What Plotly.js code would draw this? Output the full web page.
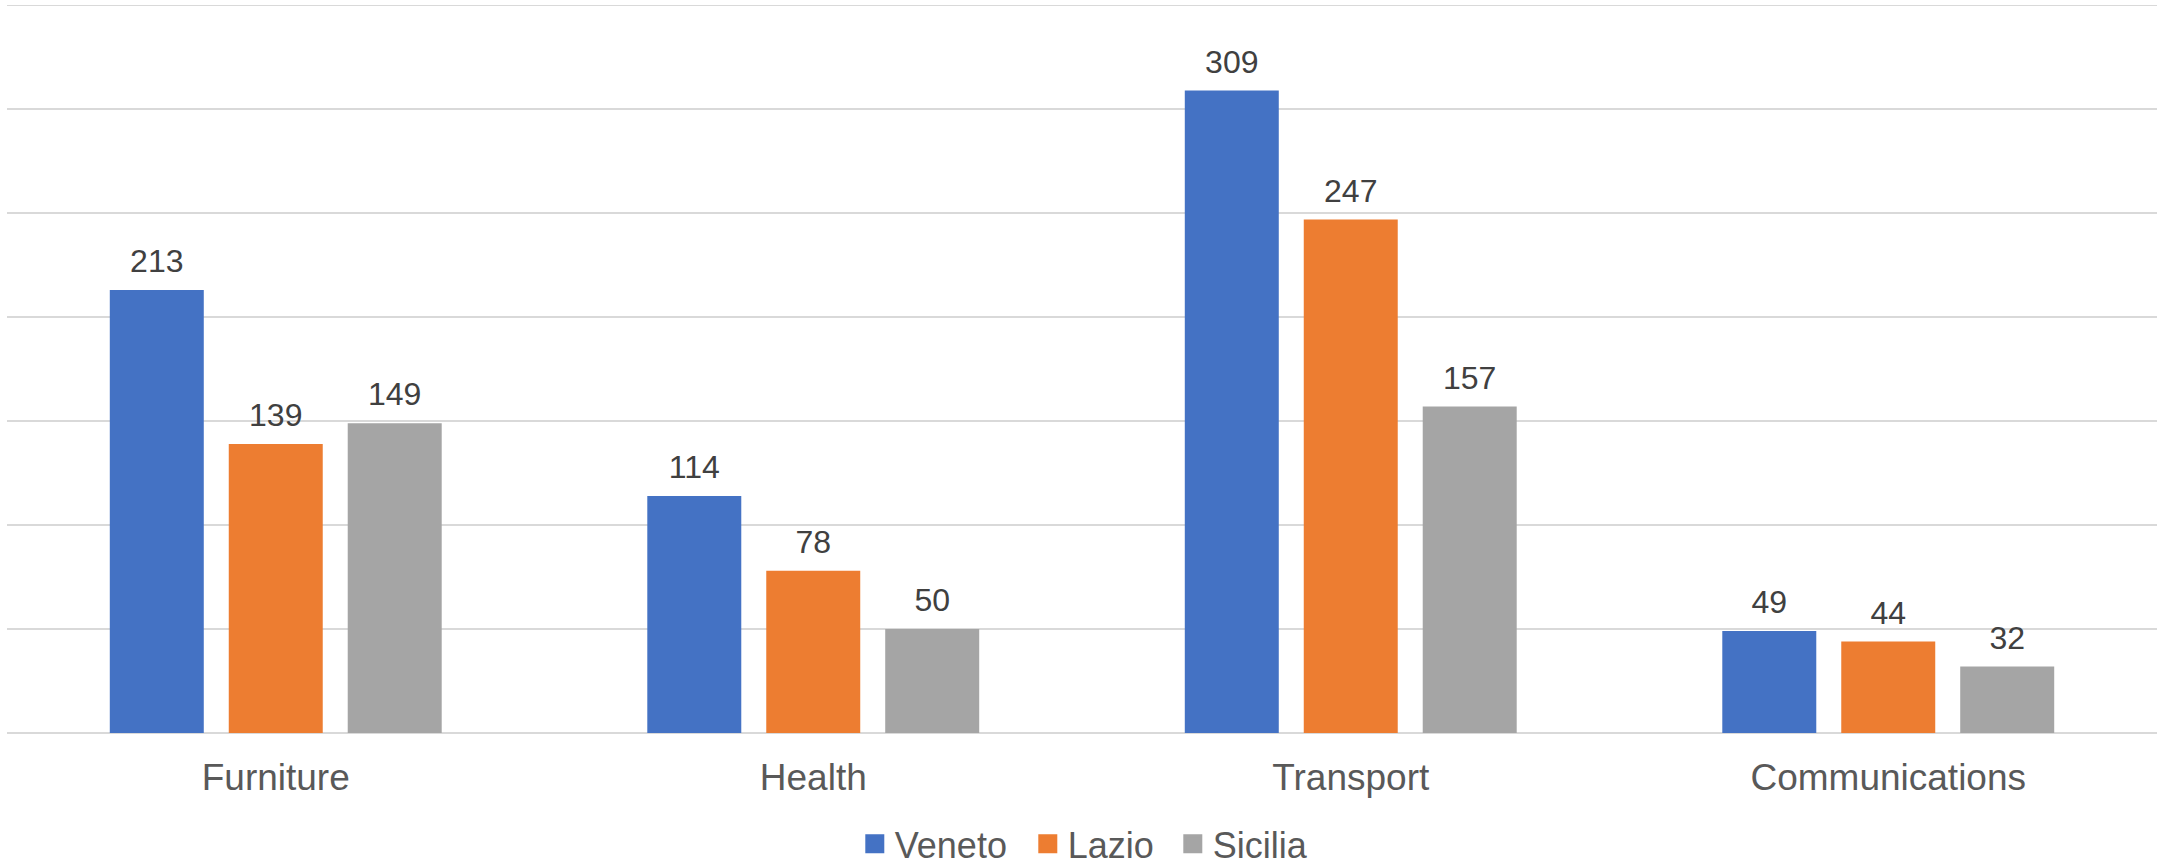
<!DOCTYPE html>
<html>
<head>
<meta charset="utf-8">
<script src="https://cdn.plot.ly/plotly-3.0.1.min.js"></script>
<style>html,body{margin:0;padding:0;background:#fff;}#chart{width:2158px;height:865px;}</style>
</head>
<body>
<div id="chart"></div>
<script>
const categories = ["Furniture", "Health", "Transport", "Communications"];
const seriesNames = ["Veneto", "Lazio", "Sicilia"];
const veneto = [213, 114, 309, 49];
const lazio = [139, 78, 247, 44];
const sicilia = [149, 50, 157, 32];
const yTicks = [0, 50, 100, 150, 200, 250, 300, 350];

const colors = ["#4472C4", "#ED7D31", "#A5A5A5"];
const legendWidths = [128, 100, 100];
const values = [veneto, lazio, sicilia];
const fontFam = "Liberation Sans, Arial, sans-serif";

const barTraces = values.map((v, i) => ({
  type: "bar",
  name: seriesNames[i],
  x: categories,
  y: v,
  marker: {color: colors[i]},
  showlegend: false,
  hoverinfo: "none"
}));

const labelTraces = values.map((v, i) => ({
  type: "scatter",
  mode: "markers+text",
  name: seriesNames[i] + " labels",
  x: categories,
  y: v,
  text: v.map(String),
  textposition: "top center",
  marker: {size: 14, color: "rgba(0,0,0,0)"},
  textfont: {family: fontFam, size: 32, color: "#404040"},
  cliponaxis: false,
  showlegend: false,
  hoverinfo: "none"
}));

// legend-only entries with larger square swatches
const legendTraces = seriesNames.map((n, i) => ({
  type: "scatter",
  mode: "markers",
  name: n,
  x: [null],
  y: [null],
  xaxis: "x2",
  yaxis: "y2",
  legendwidth: legendWidths[i],
  marker: {symbol: "square", size: 16, color: colors[i], line: {color: colors[i], width: 3}},
  hoverinfo: "none"
}));

const layout = {
  width: 2158,
  height: 865,
  margin: {l: 7, r: 1, t: 4, b: 132, autoexpand: false},
  paper_bgcolor: "#ffffff",
  plot_bgcolor: "#ffffff",
  barmode: "group",
  bargap: 0.336,
  bargroupgap: 0.21,
  scattermode: "group",
  scattergap: 0.336,
  showlegend: true,
  legend: {
    orientation: "h",
    x: 0.502, xanchor: "center",
    y: -0.152, yanchor: "middle",
    font: {family: fontFam, size: 36, color: "#595959"},
    itemwidth: 30,
    entrywidthmode: "pixels",
    traceorder: "normal"
  },
  xaxis: {
    type: "category",
    showgrid: false,
    showline: false,
    zeroline: false,
    ticks: "",
    ticklabelstandoff: 19,
    tickfont: {family: fontFam, size: 37, color: "#595959"}
  },
  yaxis: {
    range: [0, 350.6],
    tickvals: yTicks,
    showticklabels: false,
    showgrid: true,
    gridcolor: "#d9d9d9",
    gridwidth: 1.5,
    zeroline: true,
    zerolinecolor: "#d9d9d9",
    zerolinewidth: 1.5,
    ticks: ""
  },
  xaxis2: {overlaying: "x", visible: false, range: [0, 1]},
  yaxis2: {overlaying: "y", visible: false, range: [0, 1]},
  font: {family: fontFam}
};

Plotly.newPlot("chart", barTraces.concat(labelTraces, legendTraces), layout, {displayModeBar: false, staticPlot: true});
</script>
</body>
</html>
